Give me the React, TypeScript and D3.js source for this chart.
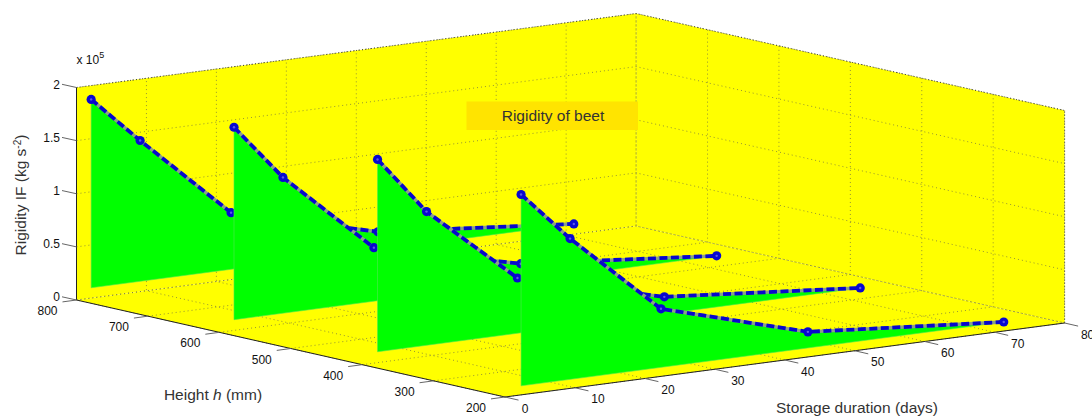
import React from "react";
import * as d3 from "d3";

const storageDays = [2.3, 9.3, 22.3, 43.3, 71.3];
const heights = [802, 602, 401, 200];
const rigidity800 = [1.865, 1.417, 0.625, 0.262, 0.092];
const rigidity600 = [1.907, 1.374, 0.6, 0.266, 0.096];
const rigidity400 = [1.91, 1.358, 0.62, 0.26, 0.1];
const rigidity200 = [1.886, 1.41, 0.636, 0.236, 0.085];
const seriesValues = [rigidity800, rigidity600, rigidity400, rigidity200];
const dayTicks = [0, 10, 20, 30, 40, 50, 60, 70, 80];
const heightTicks = [200, 300, 400, 500, 600, 700, 800];
const rigidityTicks = [0, 0.5, 1, 1.5, 2];
const rigidityLabels = ["0", "0.5", "1", "1.5", "2"];

const FONT = "Liberation Sans, Arial, sans-serif";

// Oblique projection of the 3-D box
const tx = d3.scaleLinear().domain([0, 80]).range([0, 559.6]);
const ty = d3.scaleLinear().domain([0, 80]).range([0, -74]);
const hx = d3.scaleLinear().domain([200, 800]).range([0, -428.5]);
const hy = d3.scaleLinear().domain([200, 800]).range([0, -97]);
const zy = d3.scaleLinear().domain([0, 2]).range([0, -212.5]);
const P = (t: number, h: number, z: number): [number, number] => [
  505 + tx(t) + hx(h),
  397 + ty(t) + hy(h) + zy(z),
];
const line = d3.line<[number, number]>();
const poly = (pts: [number, number][]) => line(pts) + "Z";

const T0 = 0, T1 = 80, H0 = 200, H1 = 800, Z1 = 2;

export default function App() {
  const grid = { stroke: "#7a7a40", strokeWidth: 0.8, strokeDasharray: "1 3", fill: "none" } as const;
  const edge = { stroke: "#333", strokeWidth: 0.9, strokeDasharray: "1 2", fill: "none" } as const;
  const tick = { stroke: "#666", strokeWidth: 1 } as const;
  const tickText = { fontFamily: FONT, fontSize: 12, fill: "#111", textAnchor: "middle" } as const;
  return (
    <svg
      width={1092}
      height={416}
      style={{ position: "absolute", left: 0, top: 0, background: "#fff" }}
    >
      {/* walls and floor */}
      <path d={poly([P(T0, H1, 0), P(T1, H1, 0), P(T1, H1, Z1), P(T0, H1, Z1)])} fill="#ffff00" />
      <path d={poly([P(T1, H1, 0), P(T1, H0, 0), P(T1, H0, Z1), P(T1, H1, Z1)])} fill="#ffff00" />
      <path d={poly([P(T0, H0, 0), P(T1, H0, 0), P(T1, H1, 0), P(T0, H1, 0)])} fill="#ffff00" />

      {/* grid */}
      {dayTicks.map((t) => (
        <path key={"gt" + t} {...grid} d={line([P(t, H0, 0), P(t, H1, 0), P(t, H1, Z1)])!} />
      ))}
      {heightTicks.map((h) => (
        <path key={"gh" + h} {...grid} d={line([P(T0, h, 0), P(T1, h, 0), P(T1, h, Z1)])!} />
      ))}
      {rigidityTicks.map((z) => (
        <path key={"gz" + z} {...grid} d={line([P(T0, H1, z), P(T1, H1, z), P(T1, H0, z)])!} />
      ))}
      <path {...edge} d={line([P(T0, H1, Z1), P(T1, H1, Z1), P(T1, H0, Z1), P(T1, H0, 0)])!} />

      {/* rigidity highlight */}
      <rect x={466.5} y={101.5} width={171.5} height={28.5} fill="#ffe400" />

      {/* series back to front */}
      {heights.map((h, i) => {
        const vals = seriesValues[i];
        const pts = storageDays.map((t, k) => P(t, h, vals[k]));
        const base = P(storageDays[0], h, vals[vals.length - 1]);
        return (
          <g key={h}>
            <path d={poly([...pts, base])} fill="#00ff00" stroke="#50e850" strokeWidth={0.6} />
            <path d={line(pts)!} fill="none" stroke="#8aa08a" strokeWidth={3.4} />
            <path
              d={line(pts)!}
              fill="none"
              stroke="#0808cc"
              strokeWidth={3.8}
              strokeDasharray="8 3.5"
            />
            {pts.map((p, k) => (
              <g key={k}>
                <circle cx={p[0]} cy={p[1]} r={4.6} fill="#0808d0" />
                <circle cx={p[0]} cy={p[1]} r={1.2} fill="#5a5ae8" />
              </g>
            ))}
          </g>
        );
      })}

      {/* axes */}
      <path
        d={line([P(T0, H1, Z1), P(T0, H1, 0), P(T0, H0, 0), P(T1, H0, 0)])!}
        fill="none"
        stroke="#222"
        strokeWidth={1}
      />
      {rigidityTicks.map((z, i) => {
        const p = P(T0, H1, z);
        return (
          <g key={"z" + z}>
            <line {...tick} x1={p[0]} y1={p[1]} x2={p[0] - 14.5} y2={p[1] - 3.2} />
            <text {...tickText} textAnchor="end" x={60} y={p[1] + 1}>
              {rigidityLabels[i]}
            </text>
          </g>
        );
      })}
      {heightTicks.map((h) => {
        const p = P(T0, h, 0);
        return (
          <g key={"h" + h}>
            <line {...tick} x1={p[0]} y1={p[1]} x2={p[0] - 14} y2={p[1] + 1.9} />
            <text {...tickText} x={p[0] - 29} y={p[1] + 15}>
              {h}
            </text>
          </g>
        );
      })}
      {dayTicks.map((t) => {
        const p = P(t, H0, 0);
        return (
          <g key={"t" + t}>
            <line {...tick} x1={p[0]} y1={p[1]} x2={p[0] + 13.5} y2={p[1] + 3.1} />
            <text {...tickText} x={p[0] + (t === 0 ? 20 : 23)} y={p[1] + 15.5}>
              {t}
            </text>
          </g>
        );
      })}

      {/* exponent */}
      <text x={76.5} y={64} fontFamily={FONT} fontSize={12} fill="#111">
        x 10
        <tspan dy={-6} fontSize={9}>5</tspan>
      </text>

      {/* titles */}
      <text
        transform="translate(26,195) rotate(-90)"
        textAnchor="middle"
        fontFamily={FONT}
        fontSize={15.5}
        fill="#333"
      >
        Rigidity IF (kg s
        <tspan dy={-5} fontSize={10}>-2</tspan>
        <tspan dy={5}>)</tspan>
      </text>
      <text x={213} y={400} textAnchor="middle" fontFamily={FONT} fontSize={15.5} fill="#333">
        Height <tspan fontStyle="italic">h</tspan> (mm)
      </text>
      <text x={857} y={413} textAnchor="middle" fontFamily={FONT} fontSize={15.5} fill="#333">
        Storage duration (days)
      </text>
      <text x={553} y={120.5} textAnchor="middle" fontFamily={FONT} fontSize={15.5} fill="#333">
        Rigidity of beet
      </text>
    </svg>
  );
}
